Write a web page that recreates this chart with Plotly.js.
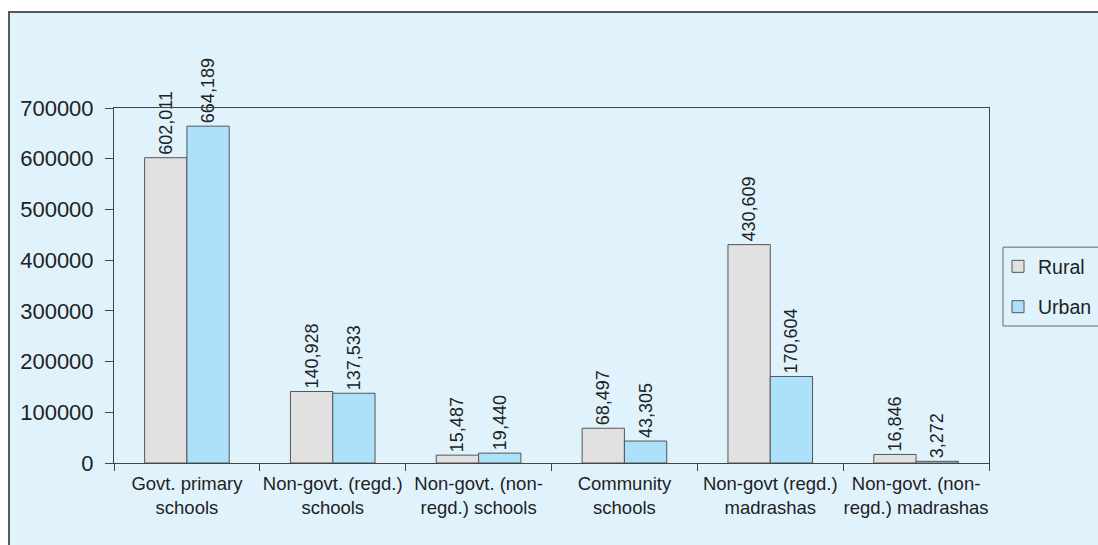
<!DOCTYPE html>
<html>
<head>
<meta charset="utf-8">
<script src="https://cdn.plot.ly/plotly-3.0.1.min.js"></script>
<style>
  html, body { margin: 0; padding: 0; background: #ffffff; }
  #wrap { position: relative; width: 1098px; height: 545px; overflow: hidden; }
  #frame {
    position: absolute; left: 8px; top: 11px; right: -4px; bottom: -4px;
    background: #e0f3fd; border-left: 2px solid #5a5a5a; border-top: 2px solid #5a5a5a;
  }
  #chart { position: absolute; left: 0; top: 0; width: 1098px; height: 545px; }
</style>
</head>
<body>
<div id="wrap">
  <div id="frame"></div>
  <div id="chart"></div>
</div>
<script>
// School types and enrolment by area
const categories = [
  "Govt. primary<br>schools",
  "Non-govt. (regd.)<br>schools",
  "Non-govt. (non-<br>regd.) schools",
  "Community<br>schools",
  "Non-govt (regd.)<br>madrashas",
  "Non-govt. (non-<br>regd.) madrashas"
];
const rural = [602011, 140928, 15487, 68497, 430609, 16846];
const urban = [664189, 137533, 19440, 43305, 170604, 3272];
const yTicks = [0, 100000, 200000, 300000, 400000, 500000, 600000, 700000];

const FONT = "Liberation Sans, Arial, sans-serif";
const INK = "#222222";

function series(name, values, color) {
  return {
    type: "bar",
    name: name,
    legendgroup: name,
    x: categories,
    y: values,
    marker: { color: color, line: { color: "#555555", width: 1 } },
    texttemplate: "%{y:,}",
    textposition: "outside",
    textangle: -90,
    constraintext: "none",
    cliponaxis: false,
    textfont: { family: FONT, size: 18, color: INK },
    hoverinfo: "skip"
  };
}

const data = [
  series("Rural", rural, "#e1e1e1"),
  series("Urban", urban, "#ade1f9")
];

const layout = {
  width: 1098,
  height: 545,
  margin: { l: 114, r: 109, t: 108, b: 82, pad: 0, autoexpand: false },
  paper_bgcolor: "rgba(0,0,0,0)",
  plot_bgcolor: "#e0f3fd",
  barmode: "group",
  bargap: 0.42,
  bargroupgap: 0,
  font: { family: FONT, color: INK },
  showlegend: true,
  // legend box drawn separately so the entries can sit closer to its left edge
  shapes: [{
    type: "rect", xref: "paper", yref: "paper",
    x0: 1.016, x1: 1.2, y0: 0.386, y1: 0.608,
    fillcolor: "#e0f3fd",
    line: { color: "#666666", width: 1 },
    layer: "above"
  }],
  legend: {
    x: 1.0103, xanchor: "left",
    y: 0.608, yanchor: "top",
    bgcolor: "rgba(0,0,0,0)",
    borderwidth: 0,
    font: { family: FONT, size: 19.5, color: INK },
    tracegroupgap: 12,
    itemwidth: 30
  },
  xaxis: {
    type: "category",
    tickson: "boundaries",
    ticks: "outside",
    ticklen: 7,
    tickcolor: "#444444",
    tickwidth: 1,
    tickangle: 0,
    ticklabelstandoff: 4,
    showline: true,
    linecolor: "#444444",
    linewidth: 1,
    mirror: true,
    showgrid: false,
    zeroline: false,
    tickfont: { family: FONT, size: 18.5, color: INK },
    fixedrange: true
  },
  yaxis: {
    range: [0, 700000],
    tickmode: "array",
    tickvals: yTicks,
    ticktext: yTicks.map(String),
    ticks: "outside",
    ticklen: 8,
    tickcolor: "#444444",
    tickwidth: 1,
    ticklabelstandoff: 7,
    showline: true,
    linecolor: "#444444",
    linewidth: 1,
    mirror: true,
    showgrid: false,
    zeroline: false,
    tickfont: { family: FONT, size: 22, color: INK },
    fixedrange: true
  }
};

Plotly.newPlot("chart", data, layout, { displayModeBar: false, staticPlot: true });
</script>
</body>
</html>
